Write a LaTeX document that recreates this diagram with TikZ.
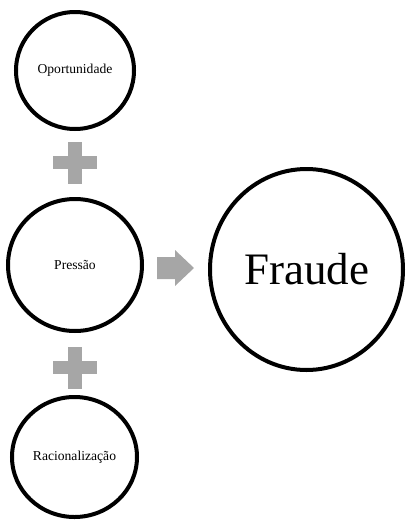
\documentclass[tikz,border=0pt]{standalone}
\usepackage{fontspec}
\setmainfont{Liberation Serif}
\usetikzlibrary{shapes.geometric}
\definecolor{symgray}{RGB}{166,166,166}
\tikzset{
  ring/.style={shape=ellipse, draw=black, line width=4pt, inner sep=0pt, fill=white},
  smalltext/.style={font=\rmfamily\fontsize{13.6}{16}\selectfont},
  symbol/.style={fill=symgray, draw=none}
}
\begin{document}
\begin{tikzpicture}[x=1pt,y=-1pt]
\useasboundingbox (0,0) rectangle (407,520);
\node[ring, smalltext, minimum width=118pt, minimum height=117pt] (op) at (75,70.5) {Oportunidade};
\node[ring, smalltext, minimum width=134pt, minimum height=132pt] (pr) at (75,265) {Pressão};
\node[ring, smalltext, minimum width=125pt, minimum height=120pt] (ra) at (74.5,457) {Racionalização};
\node[ring, font=\rmfamily\fontsize{45}{54}\selectfont, minimum width=193pt, minimum height=201pt] (fr) at (306.5,269.5) {Fraude};
% plus signs
\coordinate (p1) at (75,162.5);
\coordinate (p2) at (75,367.5);
\foreach \c in {p1,p2}{
  \fill[symbol] ([xshift=-7pt,yshift=21pt]\c) rectangle ([xshift=7pt,yshift=-21pt]\c);
  \fill[symbol] ([xshift=-22pt,yshift=6.5pt]\c) rectangle ([xshift=22pt,yshift=-6.5pt]\c);
}
% arrow
\coordinate (ar) at (157,268);
\fill[symbol] (ar) ++(0,-11) -- ++(18,0) -- ++(0,-7) -- ++(19,18) -- ++(-19,18) -- ++(0,-7) -- ++(-18,0) -- cycle;
\end{tikzpicture}
\end{document}
